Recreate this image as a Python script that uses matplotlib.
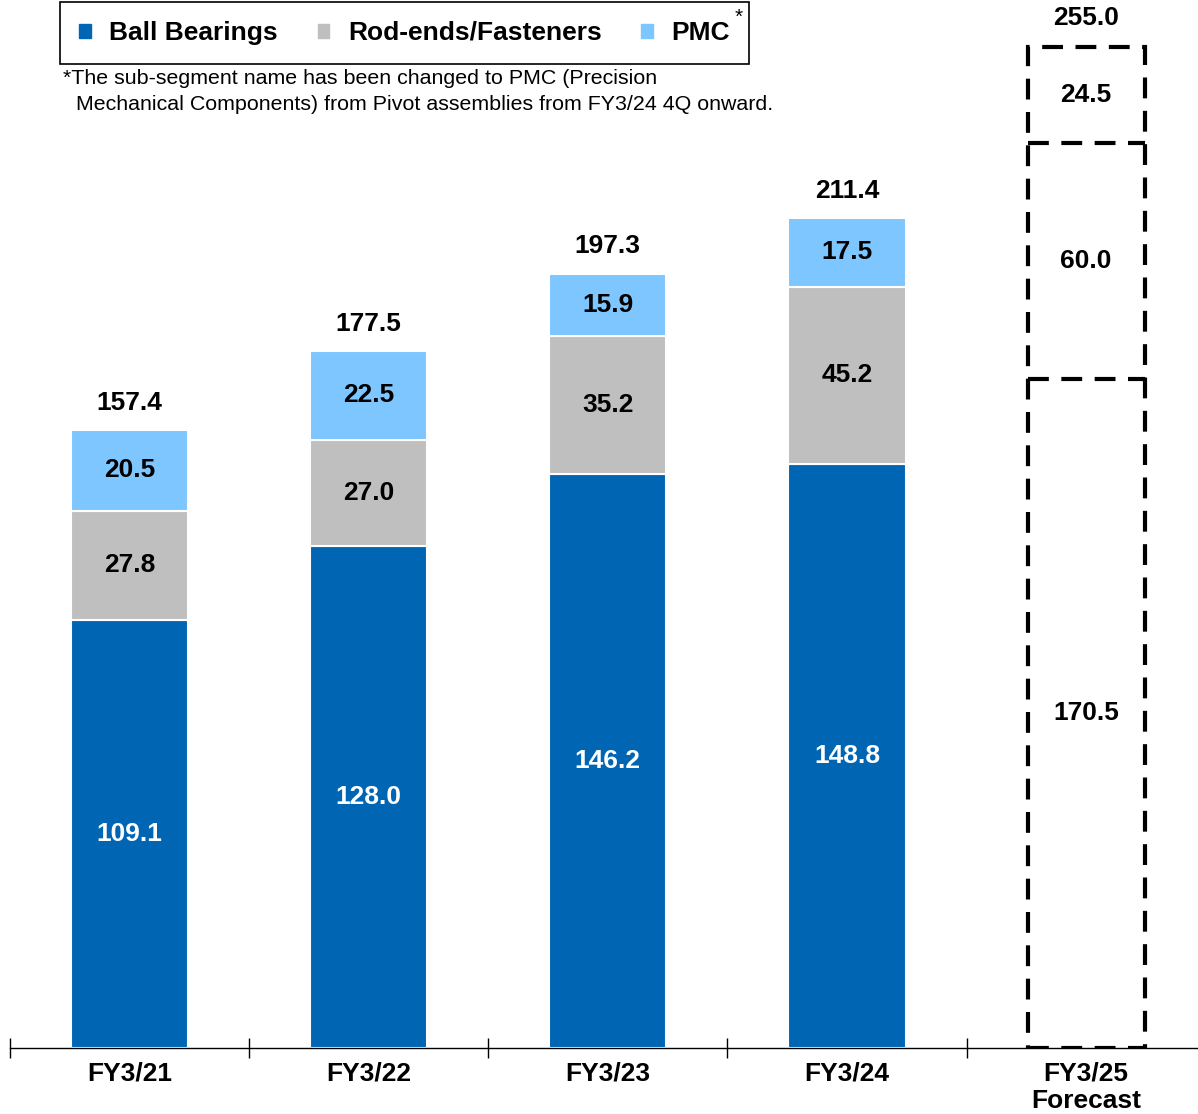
import matplotlib.pyplot as plt
from matplotlib.patches import Patch

plt.rcParams['font.family'] = ['Liberation Sans', 'DejaVu Sans']

# data
years = ["FY3/21", "FY3/22", "FY3/23", "FY3/24"]
ball_bearings = [109.1, 128.0, 146.2, 148.8]
rod_ends = [27.8, 27.0, 35.2, 45.2]
pmc = [20.5, 22.5, 15.9, 17.5]
totals = [157.4, 177.5, 197.3, 211.4]

fc_label = "FY3/25\nForecast"
fc_parts = [170.5, 60.0, 24.5]
fc_total = 255.0

c_bb = "#0066B3"
c_rod = "#BFBFBF"
c_pmc = "#7DC6FF"

fig = plt.figure(figsize=(11.98, 11.14), dpi=100)
ax = fig.add_axes([10 / 1198, 66 / 1114, 1 - 10 / 1198, 1 - 66 / 1114])

x = list(range(len(years)))
w = 0.49
ax.bar(x, ball_bearings, w, color=c_bb, edgecolor="white", linewidth=1.5)
ax.bar(x, rod_ends, w, bottom=ball_bearings, color=c_rod, edgecolor="white", linewidth=1.5)
bot2 = [a + b for a, b in zip(ball_bearings, rod_ends)]
ax.bar(x, pmc, w, bottom=bot2, color=c_pmc, edgecolor="white", linewidth=1.5)

fs = 19
for i in x:
    ax.text(i, ball_bearings[i] / 2, f"{ball_bearings[i]:.1f}", ha="center", va="center",
            color="white", fontsize=fs, fontweight="bold")
    ax.text(i, ball_bearings[i] + rod_ends[i] / 2, f"{rod_ends[i]:.1f}", ha="center", va="center",
            color="black", fontsize=fs, fontweight="bold")
    ax.text(i, bot2[i] + pmc[i] / 2, f"{pmc[i]:.1f}", ha="center", va="center",
            color="black", fontsize=fs, fontweight="bold")
    ax.text(i, totals[i] + 7, f"{totals[i]:.1f}", ha="center", va="center",
            color="black", fontsize=fs, fontweight="bold")

# forecast: dashed outline box with dashed dividers
xf = len(years)
dash = (0, (5, 3))
ax.bar(xf, fc_total, w, facecolor="none", edgecolor="black", linewidth=3, linestyle=dash)
b = 0
for k, v in enumerate(fc_parts):
    ax.text(xf, b + v / 2, f"{v:.1f}", ha="center", va="center", color="black",
            fontsize=fs, fontweight="bold")
    b += v
    if k < len(fc_parts) - 1:
        ax.hlines(b, xf - w / 2, xf + w / 2, color="black", linewidth=3, linestyle=dash)
ax.text(xf, fc_total + 7.5, f"{fc_total:.1f}", ha="center", va="center",
        color="black", fontsize=fs, fontweight="bold")

ax.set_xlim(-0.5, xf + 0.468)
ax.set_ylim(0, 267)
for s in ["top", "right", "left"]:
    ax.spines[s].set_visible(False)
ax.spines["bottom"].set_linewidth(1)
ax.set_yticks([])
ax.set_xticks(x + [xf])
ax.set_xticklabels(years + [fc_label], fontsize=fs, fontweight="bold", linespacing=1.15)
ax.tick_params(axis="x", which="major", length=0, pad=10)
ax.set_xticks([i - 0.5 for i in range(xf + 1)], minor=True)
ax.tick_params(axis="x", which="minor", length=14, direction="inout", width=1)

handles = [Patch(color=c_bb, label="Ball Bearings"),
           Patch(color=c_rod, label="Rod-ends/Fasteners"),
           Patch(color=c_pmc, label="PMC")]
leg = fig.legend(handles=handles, loc="upper left", bbox_to_anchor=(60 / 1198, 1 - 2 / 1114),
                 ncol=3, fancybox=False, edgecolor="black", framealpha=1,
                 prop={"size": fs, "weight": "bold"}, handlelength=0.45, handleheight=0.45,
                 handletextpad=0.7, columnspacing=1.5, borderpad=0.72, borderaxespad=0)
leg.get_frame().set_linewidth(1.2)
fig.text(739 / 1198, 1 - 17 / 1114, "*", fontsize=15, ha="center", va="center", zorder=10)

fig.text(63 / 1198, 1 - 78 / 1114, "*The sub-segment name has been changed to PMC (Precision",
         fontsize=15.4, ha="left", va="center")
fig.text(76 / 1198, 1 - 104 / 1114,
         "Mechanical Components) from Pivot assemblies from FY3/24 4Q onward.",
         fontsize=15.4, ha="left", va="center")

fig.savefig("out.png", dpi=100)
